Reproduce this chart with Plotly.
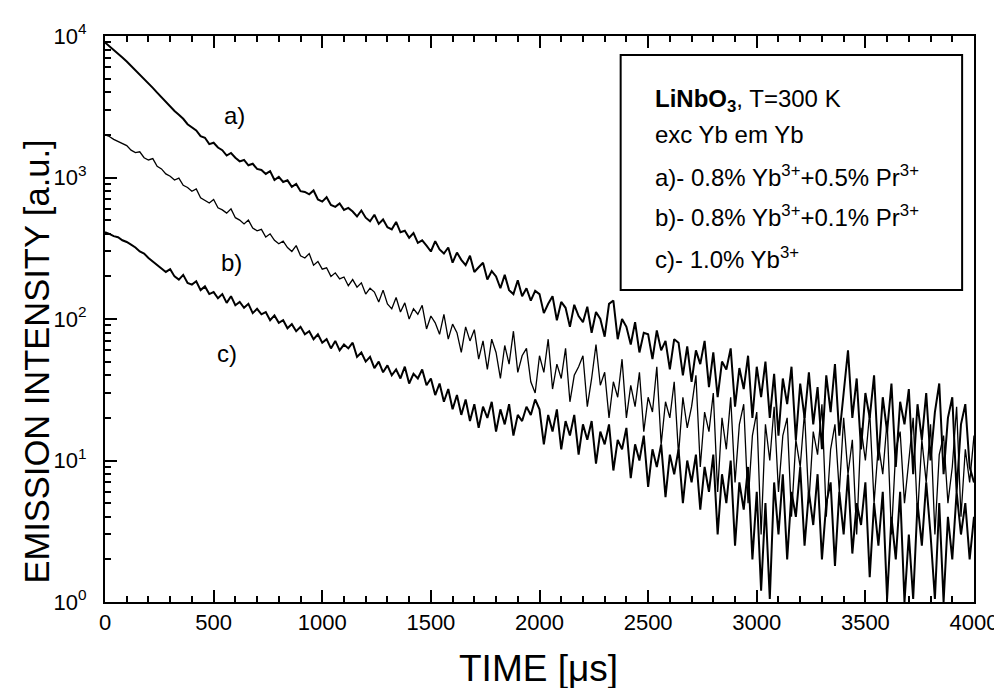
import plotly.graph_objects as go

# ---------------- data ----------------
time_us = list(range(0, 4001, 20))

intensity_a = [
    9000, 8500, 8000, 7500, 7050, 6600, 6150, 5800, 5400, 5000,
    4650, 4300, 3980, 3700, 3420, 3150, 2950, 2780, 2600, 2380,
    2270, 2150, 1960, 1910, 1720, 1760, 1630, 1560, 1430, 1490,
    1380, 1300, 1330, 1220, 1250, 1150, 1130, 1060, 1110, 960,
    1010, 930, 955, 860, 900, 800, 790, 760, 810, 700,
    675, 725, 640, 620, 655, 590, 610, 575, 530, 585,
    520, 490, 545, 470, 505, 445, 430, 485, 410, 420,
    375, 405, 345, 360, 330, 300, 355, 310, 290, 320,
    250, 295, 262, 240, 280, 215, 232, 250, 190, 218,
    200, 165, 205, 160, 150, 188, 145, 165, 135, 158,
    150, 110, 128, 145, 98, 132, 120, 88, 126, 105,
    95, 122, 80, 112, 100, 75, 128, 135, 72, 100,
    88, 66, 95, 58, 80, 78, 52, 83, 60, 70,
    44, 72, 68, 40, 64, 36, 60, 48, 70, 33,
    58, 28, 50, 44, 62, 24, 45, 32, 55, 20,
    46, 28, 50, 20, 41, 15, 38, 25, 46, 14,
    35, 20, 42, 18, 33, 12, 40, 22, 48, 15,
    30, 60, 20, 38, 12, 30, 20, 40, 10, 28,
    16, 35, 9, 26, 18, 32, 8, 25, 14, 30,
    10, 22, 35, 8, 20, 28, 6, 18, 25, 9,
    7,
]

intensity_b = [
    2000, 1950, 1860, 1800, 1720, 1680, 1560, 1500, 1520, 1380,
    1330, 1360, 1200, 1150, 1060, 1020, 960, 990, 880, 850,
    800, 830, 720, 690, 660, 700, 610, 590, 560, 600,
    520, 500, 470, 500, 440, 420, 430, 380, 400, 360,
    340, 355, 320, 300, 330, 280, 270, 290, 240, 255,
    225, 230, 200, 212, 192, 198, 172, 190, 168, 180,
    150, 165, 155, 132, 160, 128, 118, 142, 112, 130,
    100, 118, 108, 125, 85, 105, 94, 78, 108, 72,
    92, 80, 58, 88, 70, 84, 52, 70, 44, 72,
    58, 38, 65, 48, 82, 42, 55, 62, 36, 30,
    55, 42, 72, 32, 48, 38, 62, 26, 40, 46,
    55, 24, 38, 66, 34, 42, 20, 36, 28, 52,
    20, 34, 24, 42, 16, 28, 22, 46, 13, 26,
    20, 36, 11, 28, 17, 24, 40, 9, 22, 16,
    30, 6, 20, 12, 28, 7, 18, 25, 5, 15,
    22, 3, 18, 10, 24, 6, 15, 20, 4, 14,
    9, 22, 5, 16, 11, 25, 4, 12, 18, 6,
    20, 8, 14, 3, 17, 10, 22, 5, 13, 8,
    19, 3, 12, 16, 5, 10, 20, 4, 14, 7,
    18, 3, 11, 15, 5, 9, 24, 4, 12, 7,
    15,
]

intensity_c = [
    410, 400, 385, 378, 360, 350, 335, 320, 300, 290,
    270, 255, 240, 230, 215, 225, 200, 190, 205, 180,
    175, 185, 160, 170, 150, 155, 140, 150, 130, 145,
    125, 132, 120, 128, 110, 118, 108, 112, 98, 106,
    94, 98, 86, 92, 82, 88, 78, 82, 72, 78,
    68, 72, 62, 70, 60, 66, 62, 68, 54, 58,
    50, 54, 45, 50, 42, 47, 40, 44, 38, 46,
    35, 41, 38, 44, 34, 38, 29, 35, 26, 32,
    23, 29, 21, 27, 19, 25, 17, 24, 20, 26,
    16, 23, 18, 25, 15, 21, 19, 24, 21, 27,
    23, 13, 21, 16, 23, 12, 19, 15, 21, 11,
    18, 14, 19, 9.5, 16, 13, 18, 8.5, 14, 12,
    17, 7.5, 13, 10, 15, 6.5, 12, 9, 13, 5.5,
    11, 8, 12, 5, 10, 7, 11, 4.5, 9, 6,
    11, 3, 8, 5, 10, 2.5, 7, 4.5, 9, 2,
    6, 1.2, 5, 1.05, 7, 3, 8, 2, 6, 4,
    9, 2.5, 6, 3.5, 8, 2, 5, 7, 1.8, 6,
    3, 8, 2.2, 5, 3.5, 7, 1.5, 5, 2.5, 6,
    1.05, 4, 2, 6, 1.0, 3, 1.05, 5, 2.5, 7,
    3, 1.05, 5, 1.0, 4, 2, 6, 3, 5, 2,
    4,
]

x_ticks = [0, 500, 1000, 1500, 2000, 2500, 3000, 3500, 4000]
y_ticks = [1, 10, 100, 1000, 10000]
y_ticktext = ["10<sup>0</sup>", "10<sup>1</sup>", "10<sup>2</sup>",
              "10<sup>3</sup>", "10<sup>4</sup>"]
y_minor = [m * 10 ** e for e in range(0, 4) for m in range(2, 10)]

legend_lines = [
    "<b>LiNbO<sub>3</sub></b>, T=300 K",
    "exc Yb em Yb",
    "a)- 0.8% Yb<sup>3+</sup>+0.5% Pr<sup>3+</sup>",
    "b)- 0.8% Yb<sup>3+</sup>+0.1% Pr<sup>3+</sup>",
    "c)- 1.0% Yb<sup>3+</sup>",
]

FONT = "Liberation Sans, Arial, sans-serif"

fig = go.Figure()
for vals, w in [(intensity_a, 2.0), (intensity_b, 1.3), (intensity_c, 2.0)]:
    fig.add_trace(go.Scatter(x=time_us, y=vals, mode="lines",
                             line=dict(color="black", width=w),
                             showlegend=False, hoverinfo="skip"))

W0, W1, H0, H1 = 97, 975, 26, 594
def px(xp):
    return (xp - W0) / (W1 - W0)
def py(yp):
    return (H1 - yp) / (H1 - H0)

annotations = []
for txt, xx, yy in [("a)", 228, 106), ("b)", 225, 253), ("c)", 220, 345)]:
    annotations.append(dict(text=txt, x=px(xx), y=py(yy), xref="paper", yref="paper",
                            showarrow=False, xanchor="center", yanchor="middle",
                            font=dict(family=FONT, size=24, color="black")))

for txt, yy in zip(legend_lines, [91, 125, 166, 207, 249]):
    annotations.append(dict(text=txt, x=px(651), y=py(yy), xref="paper", yref="paper",
                            showarrow=False, xanchor="left", yanchor="middle",
                            font=dict(family=FONT, size=24, color="black")))

annotations.append(dict(text="TIME [\u03bcs]", x=px(535), y=py(661), xref="paper", yref="paper",
                        showarrow=False, xanchor="center", yanchor="middle",
                        font=dict(family=FONT, size=37, color="black")))
annotations.append(dict(text="EMISSION INTENSITY [a.u.]", x=px(28), y=py(353),
                        xref="paper", yref="paper", textangle=-90,
                        showarrow=False, xanchor="center", yanchor="middle",
                        font=dict(family=FONT, size=34.5, color="black")))

fig.update_layout(
    width=1002, height=688,
    margin=dict(l=W0, r=1002 - W1, t=H0, b=688 - H1, pad=0),
    paper_bgcolor="white", plot_bgcolor="white",
    font=dict(family=FONT, color="black"),
    annotations=annotations,
    shapes=[dict(type="rect", xref="paper", yref="paper",
                 x0=px(618), x1=px(963), y0=py(281), y1=py(45),
                 line=dict(color="black", width=2), fillcolor="rgba(0,0,0,0)")],
    xaxis=dict(range=[0, 4000], tickvals=x_ticks, ticks="inside", ticklen=12,
               tickwidth=2, tickcolor="black",
               minor=dict(dtick=100, tick0=0, ticks="inside", ticklen=6,
                          tickwidth=1.5, tickcolor="black", showgrid=False),
               showline=True, linewidth=2, linecolor="black", mirror="ticks",
               showgrid=False, zeroline=False,
               tickfont=dict(family=FONT, size=22, color="black")),
    yaxis=dict(type="log", range=[0, 4], tickvals=y_ticks, ticktext=y_ticktext,
               ticks="inside", ticklen=12, tickwidth=2, tickcolor="black",
               ticklabelstandoff=12,
               minor=dict(tickvals=y_minor, ticks="inside", ticklen=6,
                          tickwidth=1.5, tickcolor="black", showgrid=False),
               showline=True, linewidth=2, linecolor="black", mirror=True,
               showgrid=False, zeroline=False,
               tickfont=dict(family=FONT, size=22, color="black")),
)

fig.write_html("out.html")
